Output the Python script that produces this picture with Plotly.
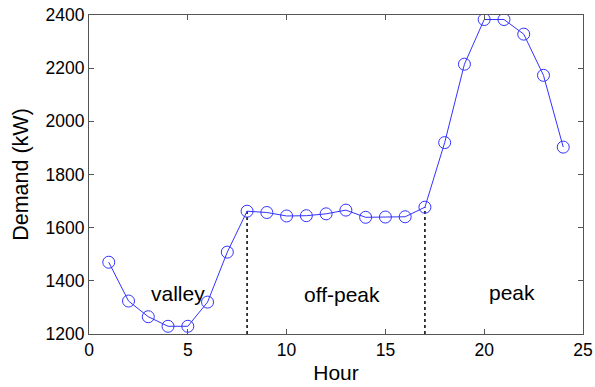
import plotly.graph_objects as go

hours = list(range(1, 25))
demand = [1470, 1324, 1265, 1229, 1229, 1320, 1508, 1662, 1657, 1644, 1645, 1652,
          1666, 1639, 1640, 1641, 1677, 1920, 2215, 2383, 2383, 2328, 2173, 1903]
divider_hours = [8, 17]
period_labels = ["valley", "off-peak", "peak"]
period_label_x = [4.5, 12.8, 21.4]
period_label_y = [1354, 1350, 1357]

FONT = "Liberation Sans, Arial"
fig = go.Figure()
for h in divider_hours:
    fig.add_trace(go.Scatter(x=[h, h], y=[1200, demand[h - 1]], mode="lines",
                             line=dict(color="black", width=1.5, dash="dot"),
                             showlegend=False, hoverinfo="skip"))
fig.add_trace(go.Scatter(x=hours, y=demand, mode="lines+markers",
                         line=dict(color="#3333ff", width=1),
                         marker=dict(symbol="circle-open", size=12, color="#3333ff", line=dict(width=1)),
                         showlegend=False))
for t, x, y in zip(period_labels, period_label_x, period_label_y):
    fig.add_annotation(x=x, y=y, text=t, showarrow=False,
                       font=dict(family=FONT, size=21, color="black"))

axis_common = dict(showgrid=False, zeroline=False, showline=True, linecolor="#555555", linewidth=1.2,
                   mirror="allticks", ticks="inside", ticklen=5, tickcolor="#555555", automargin=False,
                   tickfont=dict(family=FONT, size=17.5, color="black"))
fig.update_xaxes(range=[0, 25], tickvals=[0, 5, 10, 15, 20, 25],
                 title=dict(text="Hour", font=dict(family=FONT, size=21, color="black"), standoff=6),
                 **axis_common)
fig.update_yaxes(range=[1200, 2400], tickvals=[1200, 1400, 1600, 1800, 2000, 2200, 2400],
                 title=dict(text="Demand (kW)", font=dict(family=FONT, size=21.5, color="black"), standoff=10),
                 **axis_common)
fig.update_layout(width=595, height=387, margin=dict(l=89, r=12, t=15, b=53),
                  plot_bgcolor="white", paper_bgcolor="white")
fig.write_html("out.html", config={"displayModeBar": False},
               post_script="document.body.style.margin='0';")
